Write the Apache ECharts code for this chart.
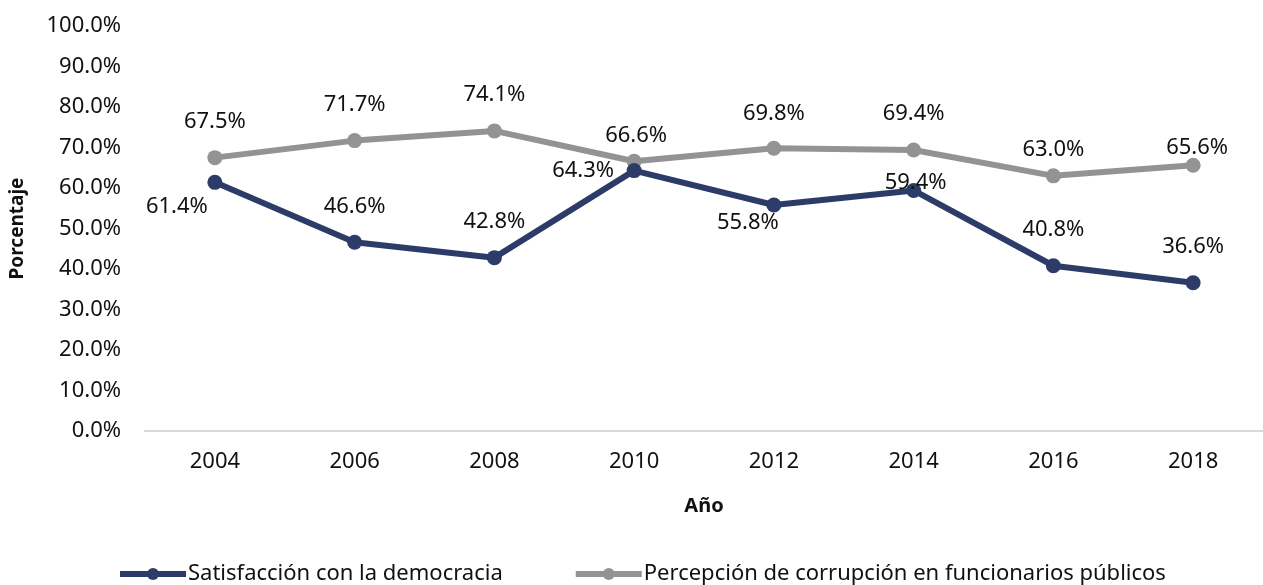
<!DOCTYPE html>
<html>
<head>
<meta charset="utf-8">
<script src="https://cdn.jsdelivr.net/npm/echarts@6/dist/echarts.min.js"></script>
<style>
  html, body { margin: 0; padding: 0; background: #fff; }
  #chart { width: 1263px; height: 585px; }
</style>
</head>
<body>
<div id="chart"></div>
<script>
// Survey years
const years = ['2004', '2006', '2008', '2010', '2012', '2014', '2016', '2018'];

// Percentages per year
const satisfaccion = [61.4, 46.6, 42.8, 64.3, 55.8, 59.4, 40.8, 36.6];
const corrupcion = [67.5, 71.7, 74.1, 66.6, 69.8, 69.4, 63.0, 65.6];

// Label nudges (pixels from the point centre) to keep labels clear of the lines
const satOffsets = [[-38, 24], [0, -36], [0, -36], [-51, 0], [-26, 18], [2, -8], [0, -36], [0, -36]];
const corOffsets = [[0, -36], [0, -36], [0, -36], [2, -26], [0, -35], [0, -36], [0, -26], [4, -18]];

const FONT = '"Noto Sans", sans-serif';
const NAVY = '#2C3B68';
const GRAY = '#939393';

function withLabels(values, offsets) {
  return values.map((v, i) => ({
    value: v,
    label: { offset: offsets[i] }
  }));
}

const labelStyle = {
  show: true,
  position: 'inside',
  align: 'center',
  verticalAlign: 'middle',
  color: '#111',
  fontFamily: FONT,
  fontSize: 22,
  formatter: p => p.value.toFixed(1) + '%'
};

const chart = echarts.init(document.getElementById('chart'));
chart.setOption({
  animation: false,
  textStyle: { fontFamily: FONT },
  grid: { left: 143, right: 0, top: 26, bottom: 154 },
  legend: {
    left: 112,
    top: 558,
    itemWidth: 66,
    itemHeight: 15,
    itemGap: 70,
    lineStyle: { width: 6 },
    textStyle: { fontFamily: FONT, fontSize: 22, color: '#111', padding: [0, 0, 0, -3] },
    data: [
      { name: 'Satisfacción con la democracia', lineStyle: { width: 6, color: NAVY } },
      { name: 'Percepción de corrupción en funcionarios públicos', lineStyle: { width: 6, color: GRAY } }
    ]
  },
  xAxis: {
    type: 'category',
    data: years,
    name: 'Año',
    nameLocation: 'middle',
    nameGap: 65,
    nameTextStyle: { fontFamily: FONT, fontSize: 20, fontWeight: 'bold', color: '#111' },
    axisLine: { lineStyle: { color: '#d9d9d9', width: 2 } },
    axisTick: { show: false },
    axisLabel: { fontFamily: FONT, fontSize: 22, color: '#111', margin: 20 }
  },
  yAxis: {
    type: 'value',
    min: 0,
    max: 100,
    interval: 10,
    name: 'Porcentaje',
    nameLocation: 'middle',
    nameGap: 118,
    nameTextStyle: { fontFamily: FONT, fontSize: 19, fontWeight: 'bold', color: '#111' },
    axisLine: { show: false },
    axisTick: { show: false },
    splitLine: { show: false },
    axisLabel: { fontFamily: FONT, fontSize: 22, color: '#111', margin: 24, formatter: v => v.toFixed(1) + '%' }
  },
  series: [
    {
      name: 'Satisfacción con la democracia',
      type: 'line',
      data: withLabels(satisfaccion, satOffsets),
      symbol: 'circle',
      symbolSize: 15,
      itemStyle: { color: NAVY },
      lineStyle: { color: NAVY, width: 6 },
      label: labelStyle,
      z: 3
    },
    {
      name: 'Percepción de corrupción en funcionarios públicos',
      type: 'line',
      data: withLabels(corrupcion, corOffsets),
      symbol: 'circle',
      symbolSize: 15,
      itemStyle: { color: GRAY },
      lineStyle: { color: GRAY, width: 6 },
      label: labelStyle,
      z: 2
    }
  ]
});
</script>
</body>
</html>
